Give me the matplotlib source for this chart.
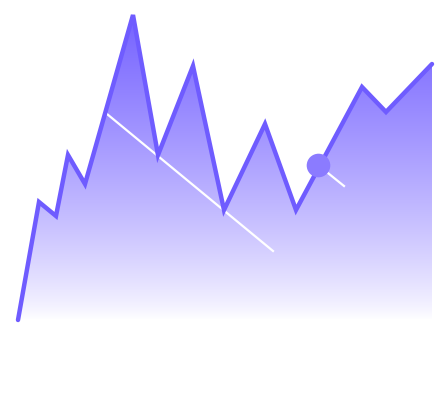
import numpy as np
import matplotlib
matplotlib.use("Agg")
import matplotlib.pyplot as plt
from matplotlib.colors import LinearSegmentedColormap

# series (x position, value)
x = [0, 21, 38, 50, 67, 115, 140, 175, 206, 247, 278, 344, 368, 414]
y = [0, 118, 104, 165, 136, 305, 165, 254, 110, 196, 110, 233, 208, 256]

# decorative trend strokes and marker
trend_x = [89, 255]
trend_y = [206, 69]
tail_x = [300, 326]
tail_y = [155, 134]
dot_x = [300]
dot_y = [155]

line_color = "#6f5cff"
fill_color = "#7562ff"
dot_color = "#8b7bff"

fig = plt.figure(figsize=(4.48, 4.19), dpi=100)
ax = fig.add_axes([0, 0, 1, 1])
ax.set_xlim(-18, 430)
ax.set_ylim(-99, 320)
ax.axis("off")

# gradient fill under the line
poly = ax.fill_between(x, y, 0, color="none")
base = matplotlib.colors.to_rgb(fill_color)
t = np.linspace(0, 1, 256)
a = t ** 0.8
colors = [(1 - ai + ai * base[0], 1 - ai + ai * base[1], 1 - ai + ai * base[2]) for ai in a]
cmap = LinearSegmentedColormap.from_list("fade", colors)
grad = t.reshape(-1, 1)
img = ax.imshow(grad, cmap=cmap, aspect="auto", origin="lower",
                extent=[min(x), max(x), 0, max(y)], zorder=1)
path = poly.get_paths()[0]
img.set_clip_path(path, transform=ax.transData)

ax.plot(trend_x, trend_y, color="white", lw=1.6, zorder=2)
ax.plot(tail_x, tail_y, color="white", lw=1.6, zorder=2)
ax.plot(x, y, color=line_color, lw=3.2, solid_joinstyle="miter",
        solid_capstyle="round", zorder=3)
ax.plot(dot_x, dot_y, "o", color=dot_color, ms=17, mew=0, zorder=4)

fig.savefig("out.png", dpi=100)
